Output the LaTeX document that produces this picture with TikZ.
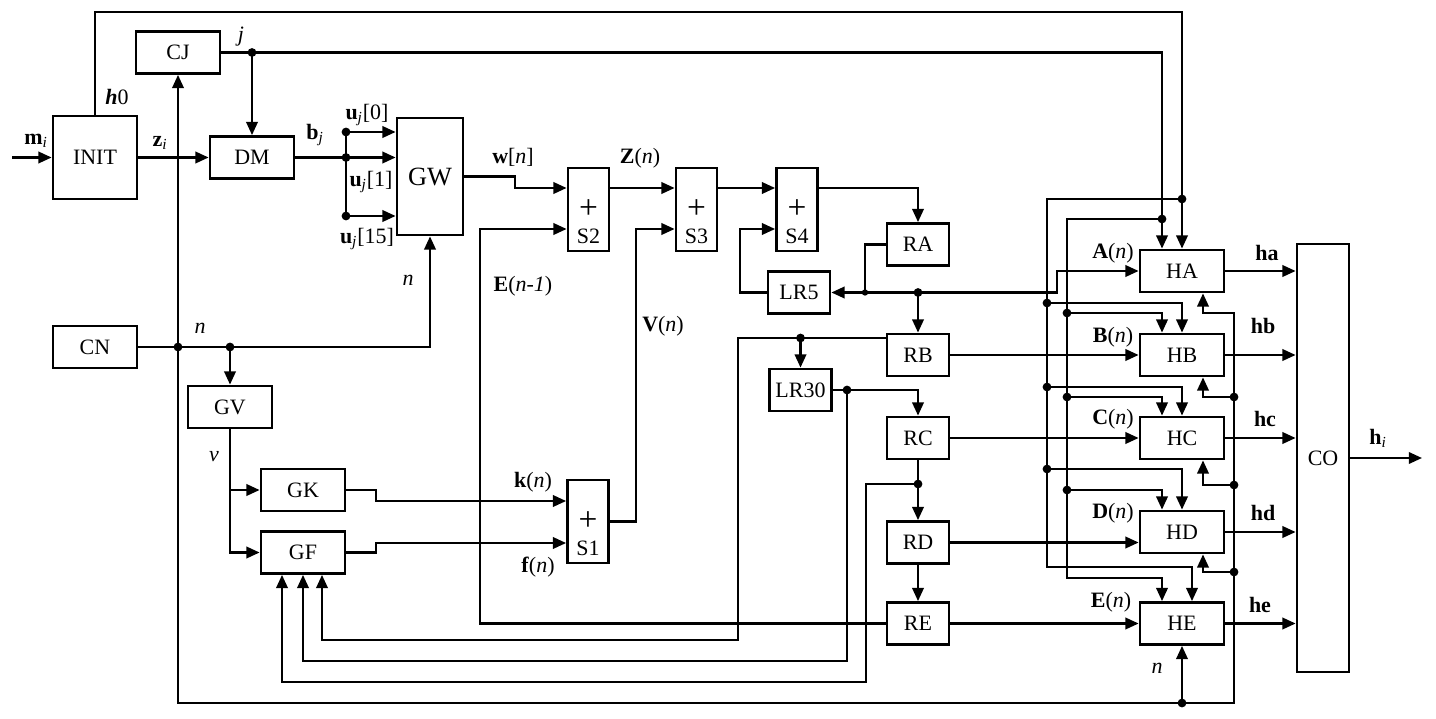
\documentclass[tikz,border=0pt]{standalone}
\usepackage{fontspec}
\setmainfont{Liberation Serif}
\usetikzlibrary{arrows.meta,positioning}

\newcommand{\vb}[1]{\textbf{#1}}
\newcommand{\idx}[1]{\textsubscript{\textit{#1}}}

\begin{document}
\begin{tikzpicture}[x=0.02cm,y=-0.02cm,line width=1.3pt,font=\fontsize{12.5}{14}\selectfont,
  blk/.style={draw,line width=1.6pt,minimum width=1.68cm,minimum height=0.84cm,inner sep=0pt},
  reg/.style={blk,minimum width=1.24cm},
  add/.style={blk,minimum width=0.82cm,minimum height=1.66cm,font=\fontsize{19}{19}\selectfont,
    label={[anchor=south,inner sep=4.5pt,font=\fontsize{12.5}{14}\selectfont]south:#1}},
  lab/.style={inner sep=1pt},
  >={Triangle[length=7.5pt,width=6.5pt]}]
  \useasboundingbox (0,0) rectangle (1436,719);

  % blocks
  \node[blk,minimum height=1.66cm] (INIT) at (95,157.5) {INIT};
  \node[blk] (CJ) at (178,52.5) {CJ};
  \node[blk] (DM) at (252,157.5) {DM};
  \node[blk,minimum width=1.32cm,minimum height=2.34cm,font=\fontsize{15}{16}\selectfont] (GW) at (430,176.5) {GW};
  \node[blk] (CN) at (95,347) {CN};
  \node[blk] (GV) at (230,407) {GV};
  \node[blk] (GK) at (303,490) {GK};
  \node[blk] (GF) at (303,552.5) {GF};
  \node[add=S1] (S1) at (588,521.5) {+};
  \node[add=S2] (S2) at (588.5,209.5) {+};
  \node[add=S3] (S3) at (696.5,209.5) {+};
  \node[add=S4] (S4) at (797,209.5) {+};
  \node[reg] (RA) at (918,244.5) {RA};
  \node[reg] (LR5) at (799,292.5) {LR5};
  \node[reg] (RB) at (918,355) {RB};
  \node[reg] (LR30) at (800.5,390) {LR30};
  \node[reg] (RC) at (918,438) {RC};
  \node[reg] (RD) at (918,542.5) {RD};
  \node[reg] (RE) at (918,623.5) {RE};
  \node[blk] (HA) at (1182,271) {HA};
  \node[blk] (HB) at (1182,355) {HB};
  \node[blk] (HC) at (1182,438) {HC};
  \node[blk] (HD) at (1182,532) {HD};
  \node[blk] (HE) at (1182,623.5) {HE};
  \node[blk,minimum width=1.04cm,minimum height=8.56cm] (CO) at (1323,458) {CO};

  % junctions
  \coordinate (in) at (12,157.5);
  \coordinate (top) at (1182,12);
  \coordinate (jH) at (1182,199);
  \coordinate (jJ) at (252,52.5);
  \coordinate (jJ2) at (1162,219);
  \coordinate (jN1) at (178,347);
  \coordinate (jN2) at (230,347);
  \coordinate (jN3) at (1182,703);
  \coordinate (jB) at (346,157.5);
  \coordinate (u0) at (346,132);
  \coordinate (u15) at (346,216);
  \coordinate (jA1) at (865,292.5);
  \coordinate (jA2) at (918,292.5);
  \coordinate (jR1) at (800.5,338);
  \coordinate (jR2) at (847,390);
  \coordinate (jR3) at (918,484);

  % h0 and j
  \draw[->] (in) -- (INIT.west |- in);
  \draw[->] (INIT.east) -- (DM.west);
  \draw[->] (INIT.north) |- (top) -- (HA.north);
  \draw[->] (jH) -| (1047,567) -| ([xshift=0.2cm]HE.north);
  \foreach \h/\y in {HB/303,HC/387,HD/469}{
    \draw[->] (1047,\y) -| (\h.north);
    \fill (1047,\y) circle (2.5pt);}
  \draw[->] (CJ.east) -| ([xshift=-0.4cm]HA.north);
  \draw[->] (jJ) -- (DM.north);
  \draw[->] (jJ2) -| (1067,578) -| ([xshift=-0.4cm]HE.north);
  \foreach \h/\y in {HB/313,HC/397,HD/490}{
    \draw[->] (1067,\y) -| ([xshift=-0.4cm]\h.north);
    \fill (1067,\y) circle (2.5pt);}

  % n
  \draw[->] (CN.east) -| (GW.south);
  \draw[->] (jN1) -- (CJ.south);
  \draw[->] (jN2) -- (GV.north);
  \draw[->] (jN1) |- (1234,703) -- (1234,313) -| ([xshift=0.42cm]HA.south);
  \draw[->] (jN3) -- (HE.south);
  \foreach \h/\y in {HB/397,HC/485,HD/572}{
    \draw[->] (1234,\y) -| ([xshift=0.42cm]\h.south);
    \fill (1234,\y) circle (2.5pt);}

  % DM, GW and adders
  \draw (DM.east) -- (jB);
  \draw (u0) -- (u15);
  \foreach \p in {u0,jB,u15} \draw[->] (\p) -- (\p -| GW.west);
  \draw[->] (GW.east) -| (515,188) -- (S2.west |- 0,188);
  \draw[->] (S2.east |- 0,188) -- (S3.west |- 0,188);
  \draw[->] (S3.east |- 0,188) -- (S4.west |- 0,188);
  \draw[->] (S4.east |- 0,188) -| (RA.north);
  \draw[->] (RE.west) -| (480,229) -- (S2.west |- 0,229);
  \draw[->] (S1.east) -| (636,229) -- (S3.west |- 0,229);
  \draw[->] (LR5.west) -| (740,229) -- (S4.west |- 0,229);

  % R chain
  \draw (RA.west) -| (jA1);
  \draw[->] (jA2) -- (LR5.east);
  \draw[->] (jA2) -- (RB.north);
  \draw[->] (jA2) -- (1057,292.5) |- (HA.west);
  \draw[->] (RB.west |- 0,338) -| (738,640) -| ([xshift=0.38cm]GF.south);
  \draw[->] (jR1) -- (LR30.north);
  \draw[->] (LR30.east) -| (RC.north);
  \draw[->] (jR2) |- (303,661) -- (GF.south);
  \draw[->] (RC.south) -- (RD.north);
  \draw[->] (RD.south) -- (RE.north);
  \draw[->] (jR3) -| (866,682) -| ([xshift=-0.42cm]GF.south);
  \draw[->] (RB.east) -- (HB.west);
  \draw[->] (RC.east) -- (HC.west);
  \draw[->] (RD.east) -- (RD.east -| HD.west);
  \draw[->] (RE.east) -- (HE.west);
  \foreach \h in {HA,HB,HC,HD,HE} \draw[->] (\h.east) -- (\h.east -| CO.west);
  \draw[->] (CO.east) -- (1422,458);

  % GV, GK, GF
  \draw[->] (GV.south) |- (GF.west);
  \draw[->] (GV.south |- GK.west) -- (GK.west);
  \draw[->] (GK.east) -| (376,501) -- (S1.west |- 0,501);
  \draw[->] (GF.east) -| (376,543) -- (S1.west |- 0,543);

  \foreach \p in {jH,jJ,jJ2,jN1,jN2,jN3,jB,u0,u15,jA2,jR1,jR2,jR3} \fill (\p) circle (2.5pt);
  \fill (jA1) circle (1.8pt);

  % labels
  \node[lab] (l_mi) at (36,141) {\vb{m}\idx{i}};
  \node[lab] (l_h0) at (117,97) {\textbf{\textit{h}}0};
  \node[lab] (l_zi) at (160,143) {\vb{z}\idx{i}};
  \node[lab] (l_j) at (241,37) {\textit{j}};
  \node[lab] (l_bj) at (315,135) {\vb{b}\idx{j}};
  \node[lab] (l_u0) at (367,115) {\vb{u}\idx{j}[0]};
  \node[lab] (l_u1) at (371,182) {\vb{u}\idx{j}[1]};
  \node[lab] (l_u15) at (367,239) {\vb{u}\idx{j}[15]};
  \node[lab] (l_nGW) at (408,280) {\textit{n}};
  \node[lab] (l_wn) at (513,157) {\vb{w}[\textit{n}]};
  \node[lab] (l_Zn) at (640,158) {\vb{Z}(\textit{n})};
  \node[lab] (l_En1) at (523,286) {\vb{E}(\textit{n-1})};
  \node[lab] (l_Vn) at (663,326) {\vb{V}(\textit{n})};
  \node[lab] (l_kn) at (533,482) {\vb{k}(\textit{n})};
  \node[lab] (l_fn) at (538,567) {\vb{f}(\textit{n})};
  \node[lab] (l_v) at (214,457) {\textit{v}};
  \node[lab] (l_nCN) at (200,328) {\textit{n}};
  \node[lab] (l_An) at (1113,253) {\vb{A}(\textit{n})};
  \node[lab] (l_Bn) at (1113,337) {\vb{B}(\textit{n})};
  \node[lab] (l_Cn) at (1113,419) {\vb{C}(\textit{n})};
  \node[lab] (l_Dn) at (1113,513) {\vb{D}(\textit{n})};
  \node[lab] (l_En) at (1111,602) {\vb{E}(\textit{n})};
  \node[lab] (l_ha) at (1267,253) {\vb{ha}};
  \node[lab] (l_hb) at (1263,326) {\vb{hb}};
  \node[lab] (l_hc) at (1265,419) {\vb{hc}};
  \node[lab] (l_hd) at (1263,513) {\vb{hd}};
  \node[lab] (l_he) at (1260,605) {\vb{he}};
  \node[lab] (l_hi) at (1378,438) {\vb{h}\idx{i}};
  \node[lab] (l_nHE) at (1157,668) {\textit{n}};
\end{tikzpicture}
\end{document}
